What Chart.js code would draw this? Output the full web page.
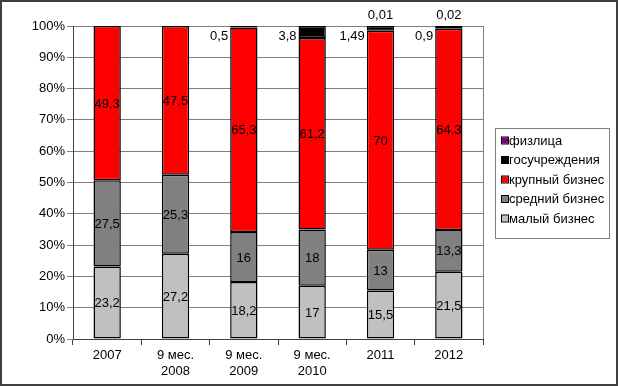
<!DOCTYPE html>
<html>
<head>
<meta charset="utf-8">
<script src="https://cdn.jsdelivr.net/npm/chart.js@4"></script>
<style>
  html, body { margin: 0; padding: 0; background: #fff; }
  #wrap { width: 618px; height: 386px; position: relative; }
</style>
</head>
<body>
<div id="wrap"><canvas id="chart" width="618" height="386"></canvas></div>
<script>
// values in percent
const categories = ['2007', ['9 мес.', '2008'], ['9 мес.', '2009'], ['9 мес.', '2010'], '2011', '2012'];
const smallBiz = [23.2, 27.2, 18.2, 17, 15.5, 21.5];
const midBiz = [27.5, 25.3, 16, 18, 13, 13.3];
const largeBiz = [49.3, 47.5, 65.3, 61.2, 70, 64.3];
const stateInst = [null, null, 0.5, 3.8, 1.49, 0.9];
const individuals = [null, null, null, null, 0.01, 0.02];
const seriesNames = ['малый бизнес', 'средний бизнес', 'крупный бизнес', 'госучреждения', 'физлица'];
const seriesColors = ['#c0c0c0', '#808080', '#ff0000', '#000000', '#800080'];

const FONT = 'Liberation Sans, Arial, sans-serif';
const fmt = v => String(v).replace('.', ',');

const series = [smallBiz, midBiz, largeBiz, stateInst, individuals];

const valueLabels = {
  id: 'valueLabels',
  afterDatasetsDraw(chart) {
    const ctx = chart.ctx;
    ctx.save();
    ctx.font = '13px ' + FONT;
    ctx.fillStyle = '#000';
    ctx.textBaseline = 'middle';
    chart.data.datasets.forEach((ds, di) => {
      const meta = chart.getDatasetMeta(di);
      meta.data.forEach((bar, i) => {
        const v = ds.data[i];
        if (v === null || v === undefined) return;
        const top = Math.min(bar.y, bar.base);
        if (di === 3) {
          // small state share: to the left of the bar top
          ctx.textAlign = 'right';
          ctx.fillText(fmt(v), bar.x - bar.width / 2 - 2, top + 10);
        } else if (di === 4) {
          ctx.textAlign = 'center';
          ctx.fillText(fmt(v), bar.x, top - 11);
        } else {
          ctx.textAlign = 'center';
          ctx.fillText(fmt(v), bar.x, (bar.y + bar.base) / 2 + 1);
        }
      });
    });
    ctx.restore();
  }
};

const frame = {
  id: 'frame',
  beforeDatasetsDraw(chart) {
    const { ctx, chartArea: a } = chart;
    ctx.save();
    ctx.strokeStyle = '#808080';
    ctx.lineWidth = 1;
    ctx.beginPath();
    ctx.moveTo(Math.round(a.right) + 0.5, a.top);
    ctx.lineTo(Math.round(a.right) + 0.5, a.bottom);
    ctx.stroke();
    ctx.restore();
  },
  afterDraw(chart) {
    const ctx = chart.ctx;
    ctx.save();
    // outer border
    ctx.strokeStyle = '#404040';
    ctx.lineWidth = 2;
    ctx.strokeRect(1, 1, 616, 384);
    // legend box
    ctx.strokeStyle = '#808080';
    ctx.lineWidth = 1;
    ctx.strokeRect(495.5, 128.5, 114, 110);
    ctx.font = '13px ' + FONT;
    ctx.textAlign = 'left';
    ctx.textBaseline = 'middle';
    const order = [4, 3, 2, 1, 0];
    order.forEach((si, k) => {
      const y = 141 + k * 19.5;
      ctx.fillStyle = seriesColors[si];
      ctx.fillRect(502, y - 3.5, 6, 6);
      ctx.strokeStyle = '#000';
      ctx.strokeRect(501.5, y - 4, 7, 7);
      ctx.fillStyle = '#000';
      ctx.fillText(seriesNames[si], 509, y);
    });
    ctx.restore();
  }
};

new Chart(document.getElementById('chart'), {
  type: 'bar',
  data: {
    labels: categories,
    datasets: series.map((d, i) => ({
      label: seriesNames[i],
      data: d,
      backgroundColor: seriesColors[i],
      borderColor: '#000',
      borderWidth: 1.5,
      borderSkipped: false,
      inflateAmount: 0,
      barPercentage: 0.4,
      categoryPercentage: 1
    }))
  },
  options: {
    responsive: false,
    animation: false,
    layout: { padding: { top: 26, right: 135, bottom: 0, left: 0 } },
    plugins: { legend: { display: false }, tooltip: { enabled: false } },
    scales: {
      x: {
        stacked: true,
        afterFit(s) { s.height = 47; },
        grid: { display: true, drawOnChartArea: false, offset: true, color: '#404040', tickLength: 6 },
        border: { color: '#404040' },
        ticks: { color: '#000', font: { family: FONT, size: 13 }, padding: 3, maxRotation: 0 }
      },
      y: {
        stacked: true,
        min: 0,
        max: 100,
        afterFit(s) { s.width = 73; },
        grid: { color: '#808080', tickLength: 6 },
        border: { color: '#404040' },
        ticks: {
          stepSize: 10,
          color: '#000',
          font: { family: FONT, size: 13 },
          padding: 2,
          callback: v => v + '%'
        }
      }
    }
  },
  plugins: [valueLabels, frame]
});
</script>
</body>
</html>
